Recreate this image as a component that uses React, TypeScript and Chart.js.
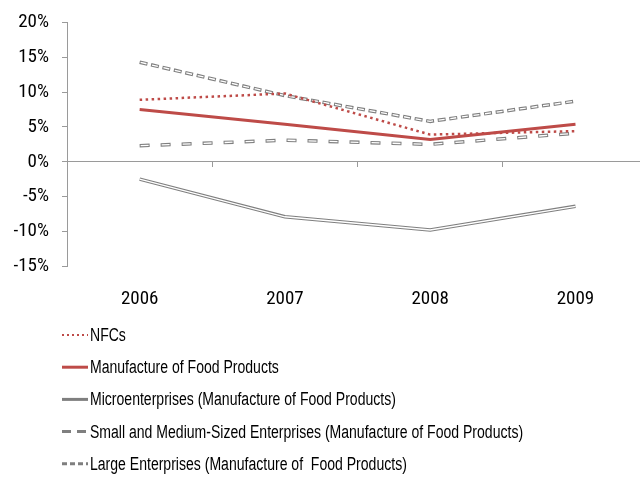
import React, { useEffect, useRef } from "react";
import { Chart, registerables } from "chart.js";

Chart.register(...registerables);

// ---- Data ----
const years = [2006, 2007, 2008, 2009];
const seriesNames = [
  "NFCs",
  "Manufacture of Food Products",
  "Microenterprises (Manufacture of Food Products)",
  "Small and Medium-Sized Enterprises (Manufacture of Food Products)",
  "Large Enterprises (Manufacture of  Food Products)",
];
const nfcs = [8.9, 9.8, 3.9, 4.4];
const manufacture = [7.5, 5.4, 3.2, 5.4];
const micro = [-2.5, -7.9, -9.8, -6.4];
const sme = [2.3, 3.1, 2.5, 4.1];
const large = [14.3, 9.5, 5.8, 8.7];
const yTicks = [-15, -10, -5, 0, 5, 10, 15, 20];

// ---- Styles ----
const RED = "#BE4B48";
const GRAY = "#7f7f7f";
const AXIS = "#9a9a9a";
const TICK_FONT = '"Roboto Condensed", "Liberation Sans Narrow", "Arial Narrow", sans-serif';
const LEGEND_FONT = '"Liberation Sans", Arial, sans-serif';

const toPts = (vals: number[]) => vals.map((v, i) => ({ x: years[i], y: v }));

const legendStyles = [
  { color: RED, width: 2.2, dash: [2, 3] },
  { color: RED, width: 3, dash: [] as number[] },
  { color: GRAY, width: 3, dash: [] as number[] },
  { color: GRAY, width: 3, dash: [9, 6] },
  { color: GRAY, width: 3, dash: [5, 3] },
];

const legendPlugin = {
  id: "stackedLegend",
  afterDraw(chart: any) {
    const ctx = chart.ctx as CanvasRenderingContext2D;
    ctx.save();
    seriesNames.forEach((name, i) => {
      const st = legendStyles[i];
      const y = 335 + i * 32.2;
      ctx.beginPath();
      ctx.setLineDash(st.dash);
      ctx.lineWidth = st.width;
      ctx.strokeStyle = st.color;
      ctx.lineCap = "butt";
      ctx.moveTo(62, y);
      ctx.lineTo(88, y);
      ctx.stroke();
      ctx.setLineDash([]);
      ctx.fillStyle = "#000";
      ctx.font = `18px ${LEGEND_FONT}`;
      ctx.textBaseline = "middle";
      ctx.textAlign = "left";
      const w = ctx.measureText(name).width;
      ctx.fillText(name, 90, y + 1, w * 0.78);
    });
    ctx.restore();
  },
};

const base = {
  pointRadius: 0,
  pointHoverRadius: 0,
  tension: 0,
  fill: false,
  xAxisID: "x",
  yAxisID: "y",
};

export default function App() {
  const ref = useRef<HTMLCanvasElement | null>(null);

  useEffect(() => {
    if (!ref.current) return;
    const chart = new Chart(ref.current, {
      type: "line",
      data: {
        datasets: [
          { ...base, label: seriesNames[0], data: toPts(nfcs), borderColor: RED, borderWidth: 2.5, borderDash: [2.5, 3.5] },
          { ...base, label: seriesNames[1], data: toPts(manufacture), borderColor: RED, borderWidth: 3 },
          { ...base, label: "large-inner", data: toPts(large), borderColor: "#ffffff", borderWidth: 1.3, borderDash: [6, 5.7], borderDashOffset: -1 },
          { ...base, label: seriesNames[4], data: toPts(large), borderColor: GRAY, borderWidth: 3.5, borderDash: [8, 3.7] },
          { ...base, label: "sme-inner", data: toPts(sme), borderColor: "#ffffff", borderWidth: 1.3, borderDash: [8, 13], borderDashOffset: -1 },
          { ...base, label: seriesNames[3], data: toPts(sme), borderColor: GRAY, borderWidth: 3.5, borderDash: [10, 11] },
          { ...base, label: "micro-inner", data: toPts(micro), borderColor: "#ffffff", borderWidth: 1.3 },
          { ...base, label: seriesNames[2], data: toPts(micro), borderColor: GRAY, borderWidth: 3.5 },
        ] as any,
      },
      options: {
        animation: false,
        responsive: false,
        maintainAspectRatio: false,
        layout: { padding: { top: 19, bottom: 145, left: 0, right: 0 } },
        plugins: {
          legend: { display: false },
          tooltip: { enabled: false },
        },
        scales: {
          y: {
            type: "linear",
            min: -15,
            max: 20,
            afterBuildTicks: (s: any) => {
              s.ticks = yTicks.map((v) => ({ value: v }));
            },
            afterFit: (s: any) => {
              s.width = 67;
            },
            ticks: {
              callback: (v: any) => `${v}%`,
              font: { family: TICK_FONT, size: 19, lineHeight: 1 },
              color: "#000",
              padding: 13,
            },
            grid: { drawOnChartArea: false, drawTicks: true, tickLength: 5, color: AXIS },
            border: { display: true, color: AXIS, width: 1 },
          },
          x: {
            type: "linear",
            position: "bottom",
            min: 2005.5,
            max: 2009.444,
            afterBuildTicks: (s: any) => {
              s.ticks = years.map((v) => ({ value: v }));
            },
            ticks: {
              callback: (v: any) => String(v),
              font: { family: TICK_FONT, size: 19 },
              color: "#000",
              padding: 22,
              maxRotation: 0,
            },
            grid: { display: false, drawTicks: false },
            border: { display: false },
          },
          x2: {
            type: "linear",
            position: { y: 0 } as any,
            min: 2005.5,
            max: 2009.444,
            afterBuildTicks: (s: any) => {
              s.ticks = years.slice(0, -1).map((v) => ({ value: v + 0.5 }));
            },
            ticks: { display: false },
            grid: { drawOnChartArea: false, drawTicks: true, tickLength: 5, color: AXIS },
            border: { display: true, color: AXIS, width: 1 },
          },
        },
      } as any,
      plugins: [legendPlugin],
    });
    return () => chart.destroy();
  }, []);

  return (
    <div style={{ position: "fixed", left: 0, top: 0, width: 640, height: 478, background: "#fff" }}>
      <canvas ref={ref} width={640} height={478} style={{ width: 640, height: 478, display: "block" }} />
    </div>
  );
}
